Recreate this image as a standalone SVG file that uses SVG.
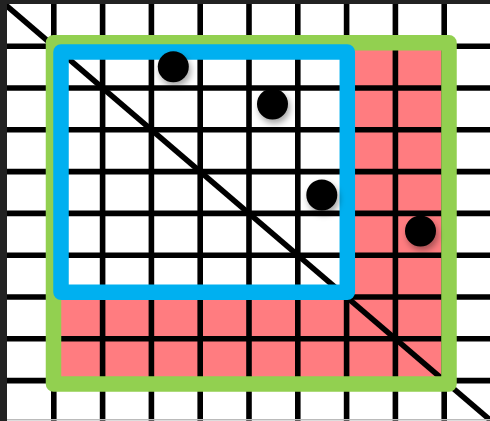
<svg xmlns="http://www.w3.org/2000/svg" width="490" height="421" viewBox="0 0 490 421">
  <defs>
    <style>
      .grid line { stroke: #000; stroke-width: 5.6; }
      .frame { fill: none; stroke-width: 15.5; stroke-linejoin: round; }
      .dot { fill: #000; filter: url(#shadow); }
    </style>
    <filter id="shadow" x="-50%" y="-50%" width="200%" height="200%">
      <feDropShadow dx="2" dy="4" stdDeviation="3" flood-color="#000" flood-opacity="0.35"/>
    </filter>
  </defs>
  <rect width="490" height="421" fill="#fff"/>
  <g id="red-cells">
    <path d="M346.6,46.2 H444.2 V380.6 H53.8 V297 H346.6 Z" fill="#FF7C80"/>
  </g>
  <g id="grid" class="grid">
    <line x1="53.8" y1="0" x2="53.8" y2="421"/>
    <line x1="102.6" y1="0" x2="102.6" y2="421"/>
    <line x1="151.4" y1="0" x2="151.4" y2="421"/>
    <line x1="200.2" y1="0" x2="200.2" y2="421"/>
    <line x1="249" y1="0" x2="249" y2="421"/>
    <line x1="297.8" y1="0" x2="297.8" y2="421"/>
    <line x1="346.6" y1="0" x2="346.6" y2="421"/>
    <line x1="395.4" y1="0" x2="395.4" y2="421"/>
    <line x1="444.2" y1="0" x2="444.2" y2="421"/>
    <line x1="0" y1="46.2" x2="490" y2="46.2"/>
    <line x1="0" y1="88" x2="490" y2="88"/>
    <line x1="0" y1="129.8" x2="490" y2="129.8"/>
    <line x1="0" y1="171.6" x2="490" y2="171.6"/>
    <line x1="0" y1="213.4" x2="490" y2="213.4"/>
    <line x1="0" y1="255.2" x2="490" y2="255.2"/>
    <line x1="0" y1="297" x2="490" y2="297"/>
    <line x1="0" y1="338.8" x2="490" y2="338.8"/>
    <line x1="0" y1="380.6" x2="490" y2="380.6"/>
    <line x1="5" y1="4.4" x2="493" y2="422.4"/>
    <rect x="0" y="0" width="7" height="421" fill="#222"/>
    <rect x="0" y="0" width="490" height="4" fill="#222"/>
    <line x1="7" y1="419.8" x2="490" y2="419.8" style="stroke:#bbb;stroke-width:1.5"/>
  </g>
  <g id="green-frame">
    <rect class="frame" x="53.5" y="42.8" width="395.5" height="341.2" stroke="#92D050"/>
  </g>
  <g id="blue-frame">
    <rect class="frame" x="61" y="52" width="286.3" height="240.3" stroke="#00B0F0"/>
  </g>
  <g id="dots">
    <circle class="dot" cx="173.3" cy="66.7" r="15.5"/>
    <circle class="dot" cx="272.5" cy="104" r="15.5"/>
    <circle class="dot" cx="321.8" cy="195" r="15.5"/>
    <circle class="dot" cx="420.5" cy="231" r="15.5"/>
  </g>
</svg>
